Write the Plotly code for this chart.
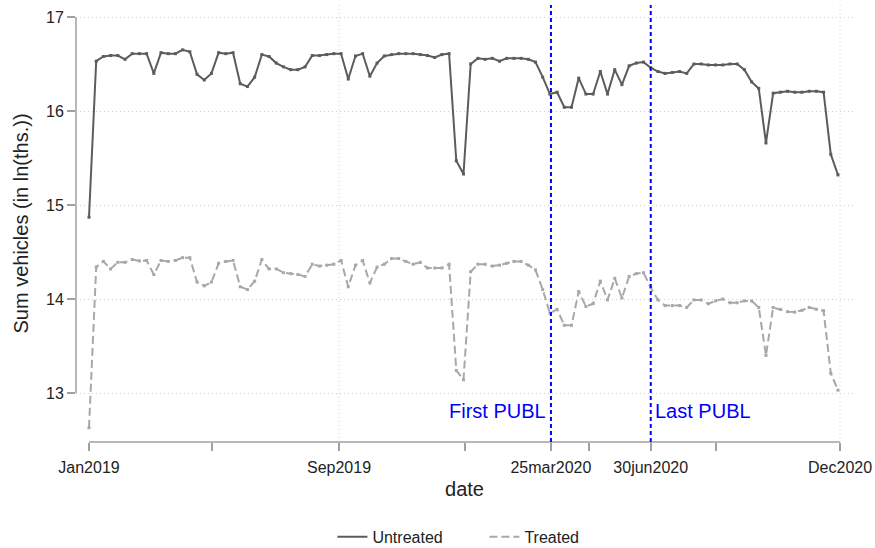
import pandas as pd
import plotly.graph_objects as go

# weekly observations, Jan 2019 - Dec 2020
dates = pd.date_range("2019-01-01", periods=105, freq="7D")

untreated = [
    14.87, 16.53, 16.58, 16.59, 16.59, 16.55, 16.61, 16.61, 16.61, 16.40,
    16.62, 16.61, 16.61, 16.65, 16.63, 16.39, 16.33, 16.40, 16.62, 16.61,
    16.62, 16.29, 16.26, 16.36, 16.60, 16.58, 16.51, 16.47, 16.44, 16.44,
    16.47, 16.59, 16.59, 16.60, 16.61, 16.61, 16.34, 16.585, 16.61, 16.37,
    16.51, 16.585, 16.60, 16.61, 16.61, 16.61, 16.60, 16.59, 16.57, 16.60,
    16.61, 15.47, 15.33, 16.50, 16.56, 16.55, 16.56, 16.53, 16.56, 16.56,
    16.56, 16.55, 16.52, 16.36, 16.18, 16.20, 16.04, 16.04, 16.35, 16.18,
    16.18, 16.42, 16.18, 16.44, 16.28, 16.48, 16.51, 16.52, 16.46, 16.42,
    16.40, 16.41, 16.42, 16.40, 16.50, 16.50, 16.49, 16.49, 16.49, 16.50,
    16.50, 16.44, 16.31, 16.24, 15.66, 16.19, 16.20, 16.21, 16.20, 16.20,
    16.21, 16.21, 16.20, 15.54, 15.32,
]

treated = [
    12.63, 14.34, 14.40, 14.32, 14.39, 14.39, 14.42, 14.405, 14.41, 14.26,
    14.41, 14.40, 14.41, 14.44, 14.44, 14.18, 14.14, 14.18, 14.38, 14.40,
    14.41, 14.13, 14.10, 14.19, 14.42, 14.32, 14.32, 14.28, 14.27, 14.26,
    14.24, 14.37, 14.35, 14.36, 14.37, 14.41, 14.13, 14.36, 14.41, 14.17,
    14.34, 14.37, 14.43, 14.43, 14.40, 14.37, 14.39, 14.33, 14.33, 14.33,
    14.37, 13.24, 13.14, 14.29, 14.37, 14.37, 14.35, 14.36, 14.38, 14.40,
    14.40, 14.36, 14.31, 14.10, 13.85, 13.89, 13.72, 13.72, 14.08, 13.92,
    13.95, 14.19, 13.99, 14.22, 14.01, 14.24, 14.27, 14.28, 14.12, 13.99,
    13.93, 13.93, 13.93, 13.91, 13.99, 13.99, 13.95, 13.98, 14.00, 13.96,
    13.96, 13.98, 13.98, 13.91, 13.40, 13.91, 13.89, 13.865, 13.86, 13.88,
    13.91, 13.89, 13.875, 13.21, 13.03,
]

tick_dates = ["2019-01-01", "2019-09-01", "2020-03-25", "2020-06-30", "2020-12-31"]
tick_labels = ["Jan2019", "Sep2019", "25mar2020", "30jun2020", "Dec2020"]
minor_dates = ["2019-05-01", "2020-01-01", "2020-05-01", "2020-09-01"]
grid_dates = ["2019-09-01", "2020-12-31"]

publ_dates = ["2020-03-25", "2020-06-30"]
publ_labels = ["First PUBL", "Last PUBL"]

y_ticks = [13, 14, 15, 16, 17]

FONT = "Liberation Sans, Arial, sans-serif"
DARK = "#5c5c5c"
LIGHT = "#a8a8a8"
AXIS = "#a0a0a0"
GRID = "#cfcfcf"
BLUE = "#0000ff"
TREATED_DASH = "8px,4px"

fig = go.Figure()

# data traces (legend handled by line-only traces below)
fig.add_trace(
    go.Scatter(
        x=dates, y=untreated, mode="lines+markers", showlegend=False,
        line={"color": DARK, "width": 2},
        marker={"symbol": "square", "size": 3, "color": DARK},
    )
)
fig.add_trace(
    go.Scatter(
        x=dates, y=treated, mode="lines+markers", showlegend=False,
        line={"color": LIGHT, "width": 2, "dash": TREATED_DASH},
        marker={"symbol": "square", "size": 3, "color": LIGHT},
    )
)
fig.add_trace(
    go.Scatter(x=[None], y=[None], mode="lines", name="Untreated",
               line={"color": DARK, "width": 2})
)
fig.add_trace(
    go.Scatter(x=[None], y=[None], mode="lines", name="Treated",
               line={"color": LIGHT, "width": 2, "dash": TREATED_DASH})
)

shapes = []
# axis lines only between the outer ticks
shapes.append(dict(type="line", xref="paper", yref="y", x0=0, x1=0,
                   y0=y_ticks[0], y1=y_ticks[-1],
                   line={"color": AXIS, "width": 1.5}))
shapes.append(dict(type="line", xref="x", yref="paper", x0=tick_dates[0],
                   x1=tick_dates[-1], y0=0, y1=0,
                   line={"color": AXIS, "width": 1.5}))
# vertical gridlines
for d in grid_dates:
    shapes.append(dict(type="line", xref="x", yref="paper", x0=d, x1=d,
                       y0=0, y1=1, layer="below",
                       line={"color": GRID, "width": 1, "dash": "1px,3px"}))
# publication lines
for d in publ_dates:
    shapes.append(dict(type="line", xref="x", yref="paper", x0=d, x1=d,
                       y0=0, y1=1,
                       line={"color": BLUE, "width": 2, "dash": "4px,3px"}))

annotations = [
    dict(x=publ_dates[0], y=12.81, xref="x", yref="y", text=publ_labels[0],
         showarrow=False, xanchor="right", xshift=-3,
         font={"color": BLUE, "size": 20, "family": FONT}),
    dict(x=publ_dates[1], y=12.81, xref="x", yref="y", text=publ_labels[1],
         showarrow=False, xanchor="left", xshift=2,
         font={"color": BLUE, "size": 20, "family": FONT}),
]

fig.update_layout(
    width=875,
    height=548,
    margin={"l": 76, "r": 22, "t": 5, "b": 106, "autoexpand": False},
    paper_bgcolor="white",
    plot_bgcolor="white",
    font={"family": FONT, "color": "#222222"},
    shapes=shapes,
    annotations=annotations,
    xaxis={
        "range": ["2018-12-19 08:40", "2021-01-12 14:24"],
        "automargin": False,
        "tickmode": "array",
        "tickvals": tick_dates,
        "ticktext": tick_labels,
        "ticks": "outside",
        "ticklen": 8,
        "tickcolor": AXIS,
        "tickwidth": 1.5,
        "tickfont": {"size": 16},
        "ticklabelstandoff": 3,
        "showgrid": False,
        "showline": False,
        "zeroline": False,
        "minor": {"tickmode": "array", "tickvals": minor_dates, "ticks": "outside",
                  "ticklen": 8, "tickcolor": AXIS, "tickwidth": 1.5, "showgrid": False},
        "title": {"text": "date", "font": {"size": 20}, "standoff": 6},
    },
    yaxis={
        "range": [12.4787, 17.1277],
        "automargin": False,
        "tickmode": "array",
        "tickvals": y_ticks,
        "ticks": "outside",
        "ticklen": 8,
        "tickcolor": AXIS,
        "tickwidth": 1.5,
        "tickfont": {"size": 16},
        "showgrid": True,
        "gridcolor": GRID,
        "griddash": "1px,3px",
        "gridwidth": 1,
        "showline": False,
        "zeroline": False,
        "title": {"text": "Sum vehicles (in ln(ths.))", "font": {"size": 20}, "standoff": 12},
    },
    legend={
        "orientation": "h",
        "x": 0.33,
        "xanchor": "left",
        "y": -0.217,
        "yanchor": "middle",
        "font": {"size": 16},
        "itemwidth": 30,
        "entrywidth": 107,
        "entrywidthmode": "pixels",
    },
)

# drop the browser's default page margin so the figure sits at the window corner
fig.write_html(
    "out.html",
    config={"displayModeBar": False},
    post_script="document.body.style.margin = '0';",
)
